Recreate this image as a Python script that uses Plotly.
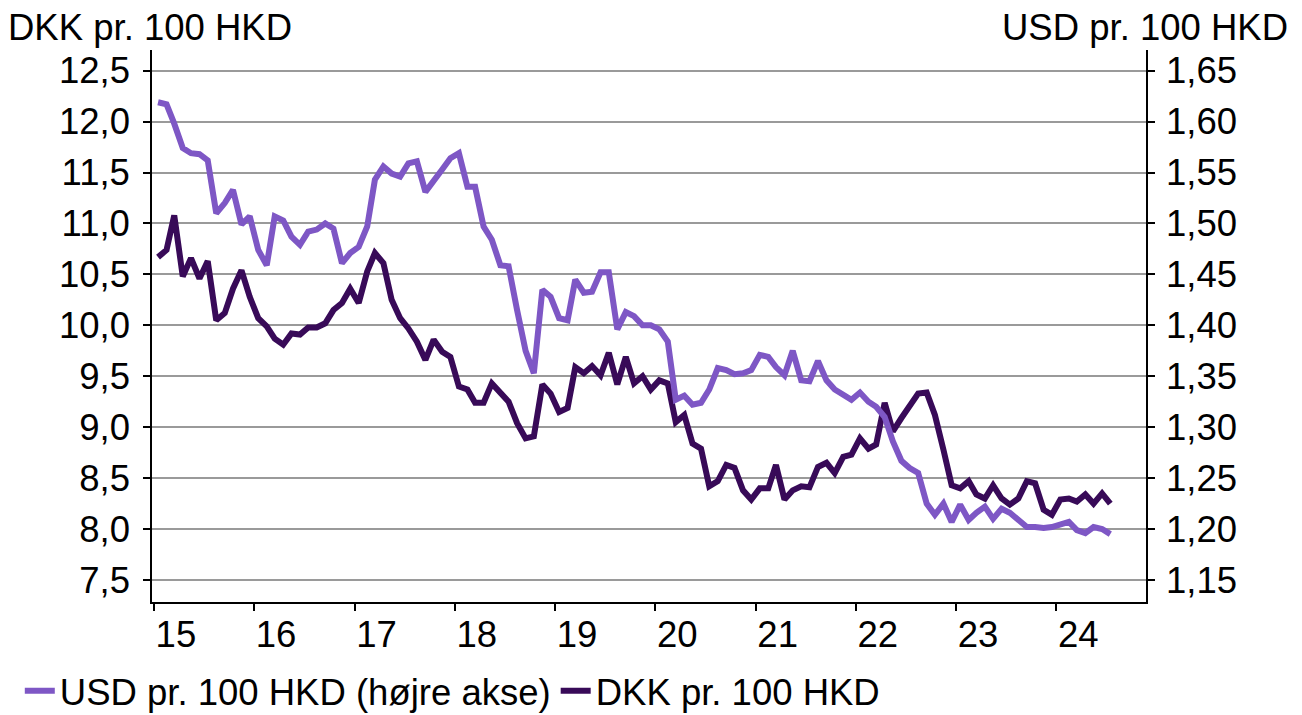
import plotly.graph_objects as go
import pandas as pd

# Monthly observations, Jan 2015 - Jul 2024
months = pd.date_range("2015-01-01", periods=115, freq="MS") + pd.Timedelta(days=15)
months = [d.strftime("%Y-%m-%d") for d in months]

usd_per_100_hkd = [
    1.619, 1.617, 1.598, 1.574, 1.569, 1.568, 1.562, 1.510, 1.520, 1.533,
    1.499, 1.507, 1.474, 1.459, 1.507, 1.503, 1.487, 1.479, 1.492, 1.494,
    1.500, 1.495, 1.461, 1.471, 1.477, 1.497, 1.543, 1.556, 1.549, 1.546,
    1.559, 1.561, 1.531, 1.543, 1.553, 1.564, 1.569, 1.536, 1.536, 1.497,
    1.484, 1.459, 1.458, 1.415, 1.375, 1.353, 1.435, 1.428, 1.407, 1.405,
    1.445, 1.432, 1.433, 1.452, 1.452, 1.396, 1.413, 1.409, 1.400, 1.400,
    1.396, 1.384, 1.327, 1.331, 1.322, 1.324, 1.337, 1.358, 1.356, 1.352,
    1.353, 1.356, 1.371, 1.369, 1.359, 1.351, 1.375, 1.346, 1.345, 1.365,
    1.346, 1.337, 1.332, 1.327, 1.334, 1.325, 1.320, 1.310, 1.286, 1.267,
    1.260, 1.255, 1.225, 1.214, 1.225, 1.207, 1.224, 1.209, 1.216, 1.222,
    1.210, 1.220, 1.216, 1.209, 1.202, 1.202, 1.201, 1.202, 1.205, 1.207,
    1.199, 1.196, 1.202, 1.200, 1.195,
]

dkk_per_100_hkd = [
    10.67, 10.74, 11.08, 10.48, 10.66, 10.46, 10.63, 10.05, 10.12, 10.36,
    10.54, 10.28, 10.07, 9.99, 9.87, 9.81, 9.92, 9.91, 9.98, 9.98,
    10.02, 10.15, 10.22, 10.36, 10.22, 10.53, 10.71, 10.61, 10.25, 10.07,
    9.97, 9.84, 9.66, 9.86, 9.74, 9.69, 9.40, 9.37, 9.24, 9.24,
    9.43, 9.33, 9.25, 9.04, 8.89, 8.91, 9.42, 9.33, 9.15, 9.19,
    9.59, 9.53, 9.60, 9.51, 9.73, 9.42, 9.69, 9.43, 9.50, 9.37,
    9.46, 9.43, 9.05, 9.12, 8.84, 8.79, 8.42, 8.47, 8.63, 8.60,
    8.38, 8.29, 8.40, 8.40, 8.63, 8.29, 8.38, 8.42, 8.41, 8.61,
    8.65, 8.55, 8.71, 8.73, 8.89, 8.79, 8.83, 9.24, 8.96, 9.09,
    9.21, 9.33, 9.34, 9.12, 8.78, 8.43, 8.40, 8.47, 8.34, 8.30,
    8.43, 8.30, 8.24, 8.30, 8.47, 8.45, 8.19, 8.14, 8.29, 8.30,
    8.27, 8.34, 8.25, 8.35, 8.25,
]

year_ticks = [f"{y}-01-01" for y in range(2015, 2025)]
year_labels = [f"{y % 100:02d}" for y in range(2015, 2025)]

left_ticks = [7.5, 8.0, 8.5, 9.0, 9.5, 10.0, 10.5, 11.0, 11.5, 12.0, 12.5]
left_labels = ["7,5", "8,0", "8,5", "9,0", "9,5", "10,0", "10,5", "11,0", "11,5", "12,0", "12,5"]
right_ticks = [1.15, 1.20, 1.25, 1.30, 1.35, 1.40, 1.45, 1.50, 1.55, 1.60, 1.65]
right_labels = ["1,15", "1,20", "1,25", "1,30", "1,35", "1,40", "1,45", "1,50", "1,55", "1,60", "1,65"]

FONT = "Liberation Sans, Arial, sans-serif"
FS = 36.5
C_USD = "#7E57C5"
C_DKK = "#380A58"

fig = go.Figure()
fig.add_trace(go.Scatter(x=months, y=usd_per_100_hkd, name="USD pr. 100 HKD (højre akse)",
                         mode="lines", line=dict(color=C_USD, width=6), yaxis="y2"))
fig.add_trace(go.Scatter(x=months, y=dkk_per_100_hkd, name="DKK pr. 100 HKD",
                         mode="lines", line=dict(color=C_DKK, width=6), yaxis="y"))

fig.update_layout(
    width=1302, height=715,
    margin=dict(l=152, r=156, t=50, b=113, autoexpand=False),
    paper_bgcolor="white", plot_bgcolor="white",
    font=dict(family=FONT, size=FS, color="black"),
    showlegend=True,
    legend=dict(orientation="h", x=-0.133, xanchor="left", y=-0.106, yanchor="top",
                font=dict(size=FS), itemwidth=30, tracegroupgap=0, bgcolor="rgba(0,0,0,0)"),
    xaxis=dict(
        type="date", range=["2014-12-25", "2024-11-23"],
        tickvals=year_ticks, ticktext=year_labels,
        ticks="outside", ticklen=7, tickwidth=1.5, tickcolor="black",
        ticklabelshift=22, ticklabelstandoff=-8,
        showline=True, linecolor="black", linewidth=1.5,
        showgrid=False, zeroline=False,
    ),
    yaxis=dict(
        range=[7.284, 12.703], tickvals=left_ticks, ticktext=left_labels,
        ticks="outside", ticklen=7, tickwidth=1.5, tickcolor="black",
        ticklabelstandoff=6,
        showline=True, linecolor="black", linewidth=1.5,
        showgrid=True, gridcolor="#9a9a9a", gridwidth=1.5, zeroline=False,
    ),
    yaxis2=dict(
        range=[1.1284, 1.6703], tickvals=right_ticks, ticktext=right_labels,
        overlaying="y", side="right",
        ticks="outside", ticklen=7, tickwidth=1.5, tickcolor="black",
        ticklabelstandoff=4,
        showline=True, linecolor="black", linewidth=1.5,
        showgrid=False, zeroline=False,
    ),
    annotations=[
        dict(text="DKK pr. 100 HKD", xref="paper", yref="paper", x=-0.147, y=1.0,
             xanchor="left", yanchor="bottom", yshift=0, showarrow=False,
             font=dict(size=FS)),
        dict(text="USD pr. 100 HKD", xref="paper", yref="paper", x=1.1445, y=1.0,
             xanchor="right", yanchor="bottom", yshift=0, showarrow=False,
             font=dict(size=FS)),
    ],
)

fig.write_html("out.html", config={"displayModeBar": False},
               post_script="document.body.style.margin='0';")
